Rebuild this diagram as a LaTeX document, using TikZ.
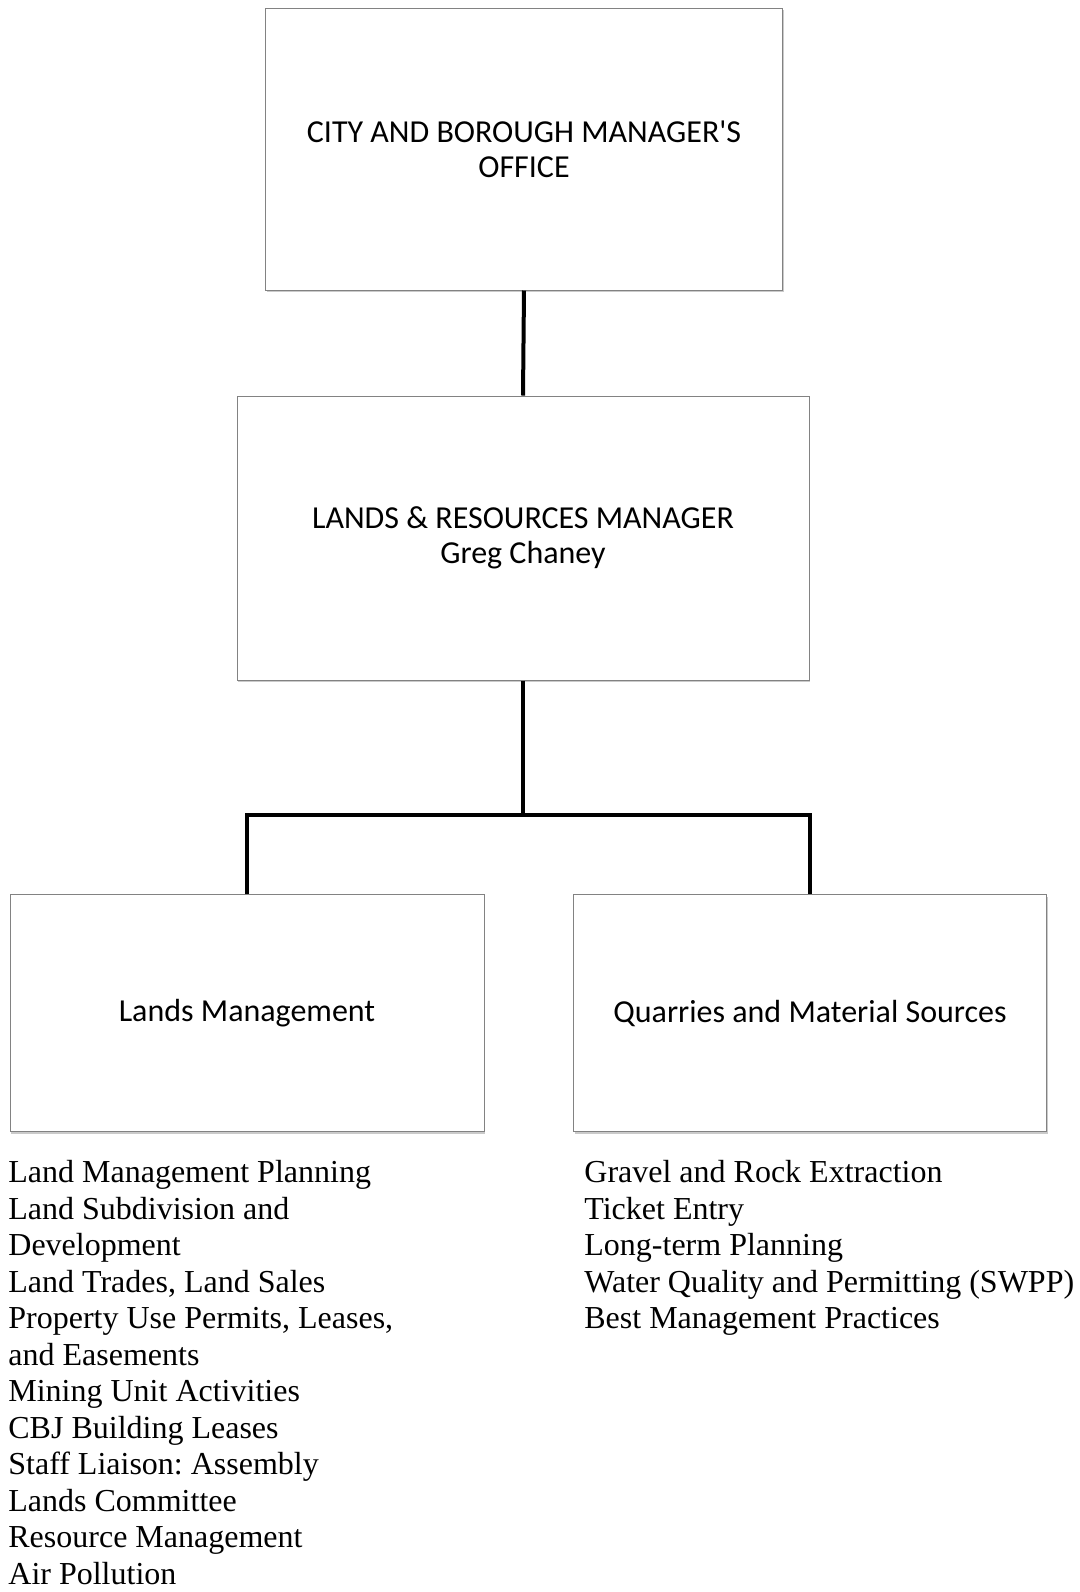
\documentclass[tikz,border=0pt]{standalone}
\usepackage{fontspec}
\setmainfont{Liberation Serif}
\newfontfamily\boxfont{Carlito}
\usepackage{tikz}
\usetikzlibrary{positioning,shadows}
\definecolor{cframe}{RGB}{130,130,130}
\frenchspacing

\begin{document}
\begin{tikzpicture}[
  x=0.5pt, y=-0.5pt,
  unit/.style={draw=cframe, fill=white, line width=0.5pt, align=center,
    font=\boxfont\fontsize{16}{17.5}\selectfont,
    drop shadow={shadow xshift=0.6pt, shadow yshift=-1.2pt, opacity=0.35, fill=black!60}},
  link/.style={black, line width=2pt},
  duties/.style={anchor=north west, inner sep=0pt, align=left,
    font=\fontsize{16}{18.25}\selectfont}
]

\useasboundingbox (0,0) rectangle (1080,1592);

% BOXES
\node[unit, minimum width=258.5pt, minimum height=141pt] (mgr) at (524,149)
  {CITY AND BOROUGH MANAGER'S\\OFFICE};
\node[unit, minimum width=286pt, minimum height=142pt] (lrm) at (523,538)
  {LANDS \& RESOURCES MANAGER\\Greg Chaney};
\node[unit, minimum width=237pt, minimum height=118.5pt] (lands) at (247,1013)
  {Lands Management};
\node[unit, minimum width=236.5pt, minimum height=118.5pt] (quarry) at (810,1013)
  {Quarries and Material Sources};

% CONNECTORS
\coordinate (bar) at (523,815);
\draw[link] (mgr.south) -- (lrm.north);
\draw[link] (lrm.south) -- (bar);
\draw[link] (lands.north) |- (bar) -| (quarry.north);

% DUTIES
\node[duties] (landlist) at (8,1160) {Land Management Planning\\
  Land Subdivision and\\
  Development\\
  Land Trades, Land Sales\\
  Property Use Permits, Leases,\\
  and Easements\\
  Mining Unit Activities\\
  CBJ Building Leases\\
  Staff Liaison: Assembly\\
  Lands Committee\\
  Resource Management\\
  Air Pollution};
\node[duties] (quarrylist) at (584,1160) {Gravel and Rock Extraction\\
  Ticket Entry\\
  Long-term Planning\\
  Water Quality and Permitting (SWPP)\\
  Best Management Practices};

\end{tikzpicture}
\end{document}
